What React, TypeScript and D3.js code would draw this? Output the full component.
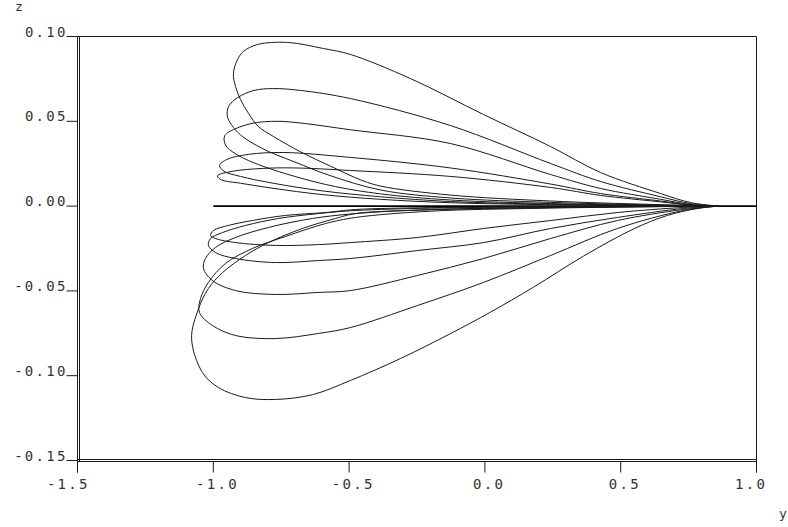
import React from "react";
import * as d3 from "d3";

const X_TICKS = [-1.5, -1.0, -0.5, 0.0, 0.5, 1.0];
const X_TICK_LABELS = ["-1.5", "-1.0", "-0.5", "0.0", "0.5", "1.0"];
const Z_TICKS = [0.1, 0.05, 0.0, -0.05, -0.1, -0.15];
const Z_TICK_LABELS = ["0.10", "0.05", "0.00", "-0.05", "-0.10", "-0.15"];

const BASELINE: [number, number][] = [[-1.0, 0], [1.0, 0]];

const upperLoop1: [number, number][] = [
  [0.86, 0], [0.757, 0.0021], [0.647, 0.0074], [0.426, 0.0198], [0.242, 0.0351], [-0.005, 0.054],
  [-0.274, 0.0752], [-0.495, 0.0894], [-0.594, 0.0929], [-0.727, 0.0965], [-0.837, 0.0953],
  [-0.889, 0.0912], [-0.911, 0.0864], [-0.926, 0.0782], [-0.918, 0.0705], [-0.9, 0.0629],
  [-0.87, 0.0546], [-0.834, 0.0469], [-0.778, 0.041], [-0.679, 0.032], [-0.568, 0.0235],
  [-0.458, 0.0155], [-0.384, 0.0118], [-0.127, 0.0065], [0.242, 0.003], [0.61, 0.001], [0.86, 0],
];
const upperLoop2: [number, number][] = [
  [0.86, 0], [0.757, 0.0015], [0.647, 0.0055], [0.426, 0.0145], [0.242, 0.0251], [-0.127, 0.0475],
  [-0.495, 0.0634], [-0.679, 0.0682], [-0.778, 0.0693], [-0.85, 0.0682], [-0.91, 0.064],
  [-0.944, 0.0587], [-0.948, 0.0528], [-0.933, 0.048], [-0.9, 0.042], [-0.82, 0.034],
  [-0.7, 0.026], [-0.57, 0.018], [-0.384, 0.0095], [-0.127, 0.0048], [0.242, 0.0022], [0.61, 0.0007], [0.86, 0],
];
const upperLoop3: [number, number][] = [
  [0.86, 0], [0.757, 0.001], [0.647, 0.004], [0.426, 0.0104], [0.242, 0.0186], [-0.127, 0.0369],
  [-0.495, 0.045], [-0.68, 0.049], [-0.764, 0.05], [-0.85, 0.049], [-0.92, 0.0455],
  [-0.958, 0.0415], [-0.955, 0.036], [-0.92, 0.031], [-0.85, 0.0255], [-0.7, 0.0175],
  [-0.55, 0.0115], [-0.384, 0.0072], [-0.127, 0.0036], [0.242, 0.0015], [0.61, 0.0005], [0.86, 0],
];
const upperLoop4: [number, number][] = [
  [0.86, 0], [0.757, 0.0008], [0.647, 0.003], [0.426, 0.0074], [0.242, 0.013], [-0.127, 0.0225],
  [-0.495, 0.0287], [-0.742, 0.0316], [-0.87, 0.0305], [-0.95, 0.0275], [-0.977, 0.0239],
  [-0.96, 0.0205], [-0.9, 0.0175], [-0.78, 0.0135], [-0.6, 0.009], [-0.384, 0.0055],
  [-0.127, 0.0027], [0.242, 0.0011], [0.61, 0.0003], [0.86, 0],
];
const upperLoop5: [number, number][] = [
  [0.86, 0], [0.757, 0.0006], [0.647, 0.0025], [0.426, 0.0063], [0.242, 0.011], [-0.127, 0.0175],
  [-0.495, 0.021], [-0.7, 0.0225], [-0.82, 0.0222], [-0.93, 0.0205], [-0.985, 0.0178],
  [-0.97, 0.0155], [-0.9, 0.0135], [-0.78, 0.0105], [-0.6, 0.0068], [-0.384, 0.004],
  [-0.127, 0.002], [0.242, 0.0008], [0.61, 0.0002], [0.86, 0],
];

const lowerLoop1: [number, number][] = [
  [0.86, 0], [0.805, -0.0008], [0.672, -0.0055], [0.547, -0.0135], [0.363, -0.0295], [0.179, -0.0478],
  [0.021, -0.0625], [-0.127, -0.0752], [-0.311, -0.0899], [-0.495, -0.1028], [-0.635, -0.1112],
  [-0.771, -0.114], [-0.881, -0.1129], [-0.981, -0.107], [-1.04, -0.0981], [-1.08, -0.0781],
  [-1.054, -0.0604], [-1.018, -0.0486], [-0.966, -0.0392], [-0.881, -0.0291], [-0.797, -0.0215],
  [-0.672, -0.0132], [-0.55, -0.0073], [-0.476, -0.0044], [-0.2, -0.0022], [0.2, -0.001], [0.6, -0.0003], [0.86, 0],
];
const lowerLoop2: [number, number][] = [
  [0.86, 0], [0.731, -0.0026], [0.488, -0.0132], [0.242, -0.0291], [-0.005, -0.045], [-0.248, -0.0586],
  [-0.495, -0.0716], [-0.613, -0.0751], [-0.771, -0.0781], [-0.918, -0.0763], [-1.003, -0.0704],
  [-1.051, -0.0627], [-1.047, -0.0545], [-1.018, -0.045], [-0.955, -0.0338], [-0.856, -0.025],
  [-0.734, -0.0179], [-0.587, -0.0103], [-0.476, -0.0067], [-0.2, -0.003], [0.2, -0.0013], [0.6, -0.0004], [0.86, 0],
];
const lowerLoop3: [number, number][] = [
  [0.86, 0], [0.731, -0.002], [0.488, -0.0085], [0.242, -0.0191], [-0.005, -0.0309], [-0.248, -0.0409],
  [-0.495, -0.0498], [-0.613, -0.0509], [-0.771, -0.0521], [-0.918, -0.0498], [-1.003, -0.0439],
  [-1.036, -0.0368], [-1.029, -0.0309], [-0.992, -0.0244], [-0.918, -0.0185], [-0.797, -0.0126],
  [-0.635, -0.0073], [-0.476, -0.0044], [-0.2, -0.002], [0.2, -0.0009], [0.6, -0.0003], [0.86, 0],
];
const lowerLoop4: [number, number][] = [
  [0.86, 0], [0.731, -0.0014], [0.488, -0.0067], [0.242, -0.0132], [-0.005, -0.0215], [-0.248, -0.0262],
  [-0.495, -0.0309], [-0.613, -0.0321], [-0.771, -0.0333], [-0.918, -0.0309], [-0.992, -0.0274],
  [-1.018, -0.0232], [-1.01, -0.0191], [-0.966, -0.0156], [-0.881, -0.0114], [-0.76, -0.0073],
  [-0.613, -0.0044], [-0.476, -0.0026], [-0.2, -0.0012], [0.2, -0.0005], [0.6, -0.0002], [0.86, 0],
];
const lowerLoop5: [number, number][] = [
  [0.86, 0], [0.731, -0.0008], [0.488, -0.0038], [0.242, -0.0085], [-0.005, -0.0132], [-0.248, -0.0185],
  [-0.495, -0.0215], [-0.613, -0.0227], [-0.771, -0.0232], [-0.918, -0.0215], [-0.992, -0.0191],
  [-1.01, -0.0173], [-0.999, -0.0144], [-0.944, -0.0114], [-0.856, -0.0085], [-0.734, -0.0055],
  [-0.587, -0.0038], [-0.476, -0.002], [-0.2, -0.0009], [0.2, -0.0004], [0.6, -0.0001], [0.86, 0],
];

const LOOPS = [
  upperLoop1, upperLoop2, upperLoop3, upperLoop4, upperLoop5,
  lowerLoop1, lowerLoop2, lowerLoop3, lowerLoop4, lowerLoop5,
];

const W = 788;
const H = 527;
const FONT = "'DejaVu Sans Mono', monospace";
const INK = "#1a1a1a";
const TEXT = "#333";

export default function App() {
  const x = d3.scaleLinear().domain([-1.5, 1.0]).range([77.5, 756.5]);
  const z = d3.scaleLinear().domain([-0.15, 0.1]).range([460.5, 36.5]);
  const line = d3
    .line<[number, number]>()
    .x((d) => x(d[0]))
    .y((d) => z(d[1]))
    .curve(d3.curveCatmullRom.alpha(0.5));

  const left = x(-1.5);
  const right = x(1.0);
  const top = z(0.1);
  const bottom = z(-0.15);
  const n = X_TICKS.length;

  return (
    <svg
      width={W}
      height={H}
      style={{ position: "fixed", left: 0, top: 0, background: "#fff" }}
    >
      {/* frame */}
      <line x1={left} x2={right} y1={top} y2={top} stroke={INK} strokeWidth={1} />
      <line x1={right} x2={right} y1={top} y2={bottom + 12} stroke={INK} strokeWidth={1} />
      <line x1={left} x2={left} y1={top} y2={bottom + 12} stroke={INK} strokeWidth={1} />
      <line x1={left + 2} x2={left + 2} y1={top} y2={bottom + 1} stroke={INK} strokeWidth={1} />
      <line x1={left} x2={right} y1={bottom - 1} y2={bottom - 1} stroke={INK} strokeWidth={1} />
      <line x1={left} x2={right} y1={bottom + 1} y2={bottom + 1} stroke={INK} strokeWidth={1} />

      {/* z ticks */}
      {Z_TICKS.map((t, i) => (
        <g key={"zt" + i}>
          <line x1={left - 11} x2={left} y1={z(t)} y2={z(t)} stroke={INK} strokeWidth={1} />
          <text
            x={left - 12 + 2.3}
            y={z(t)}
            textAnchor="end"
            fontFamily={FONT}
            fontSize={14}
            letterSpacing={2.3}
            fill={TEXT}
          >
            {Z_TICK_LABELS[i]}
          </text>
        </g>
      ))}

      {/* y ticks */}
      {X_TICKS.map((t, i) => {
        let anchor: "end" | "middle" = "middle";
        let lx = x(t) + 3 + 1.15;
        if (i === 0) {
          anchor = "end";
          lx = x(t) + 10 + 2.3;
        } else if (i === n - 1) {
          anchor = "end";
          lx = x(t) + 8.5 + 2.3;
        }
        return (
          <g key={"xt" + i}>
            <line x1={x(t)} x2={x(t)} y1={bottom + 1} y2={bottom + 12} stroke={INK} strokeWidth={1} />
            <text
              x={lx}
              y={489}
              textAnchor={anchor}
              fontFamily={FONT}
              fontSize={14}
              letterSpacing={2.3}
              fill={TEXT}
            >
              {X_TICK_LABELS[i]}
            </text>
          </g>
        );
      })}

      {/* axis names */}
      <text x={15} y={11} fontFamily={FONT} fontSize={13} fill={TEXT}>z</text>
      <text x={779} y={518} fontFamily={FONT} fontSize={13} fill={TEXT}>y</text>

      {/* baseline */}
      <path d={line(BASELINE) || ""} fill="none" stroke="#000" strokeWidth={1.6} />

      {/* loops */}
      {LOOPS.map((loop, i) => (
        <path key={"l" + i} d={line(loop) || ""} fill="none" stroke={INK} strokeWidth={1} />
      ))}
    </svg>
  );
}
